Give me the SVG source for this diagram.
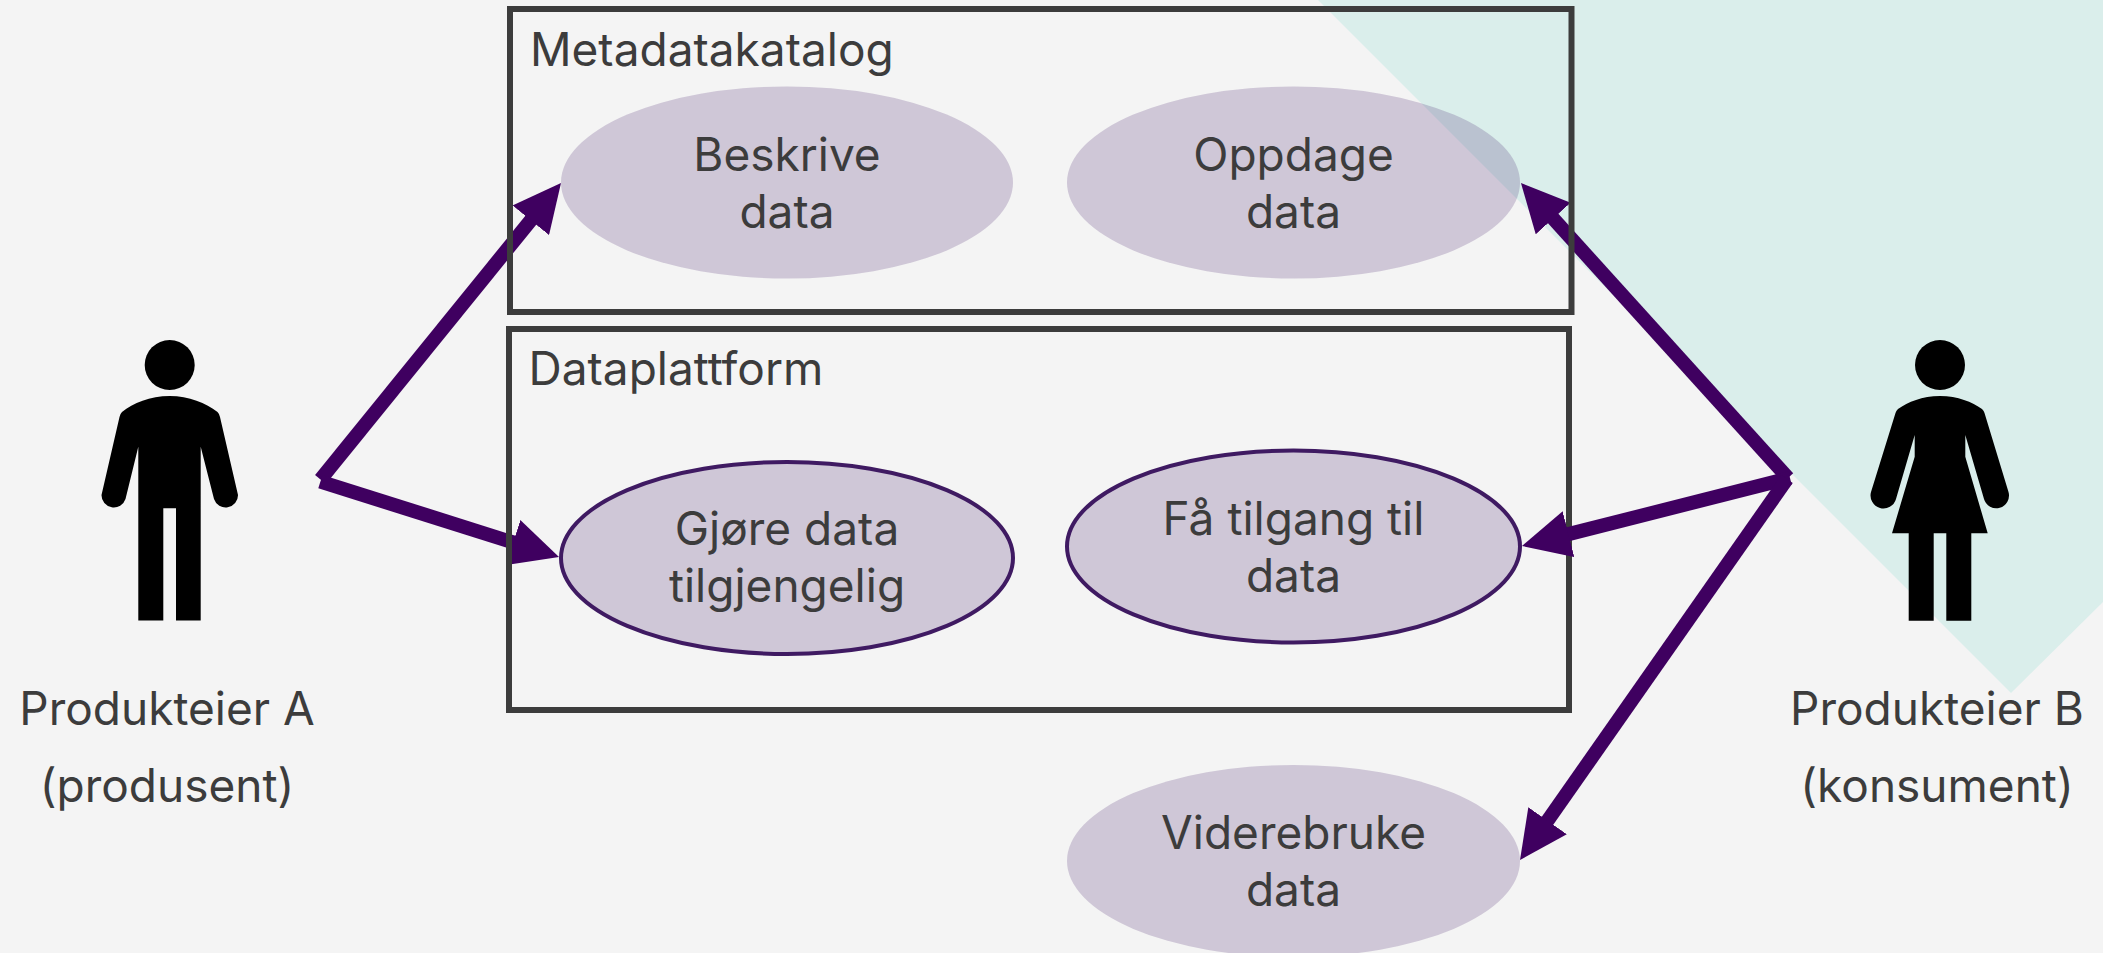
<svg xmlns="http://www.w3.org/2000/svg" width="2103" height="953" viewBox="0 0 2103 953">
<style>
text{font-family:"Inter","Noto Sans","Liberation Sans",sans-serif;font-size:46px;fill:#3c3c3c}
.c{text-anchor:middle}
.uc{fill:#3b1363;fill-opacity:.2}
.s{stroke:#3f1a62;stroke-width:4}
.box{fill:none;stroke:#3c3c3c;stroke-width:6}
.a{fill:none;stroke:#3f0060;stroke-width:14;marker-end:url(#head)}
</style>
<defs>
<marker id="head" markerUnits="userSpaceOnUse" markerWidth="48" markerHeight="47" viewBox="0 0 48 47" refX="1" refY="23.5" orient="auto"><path d="M0 0L48 23.5L0 47Z" fill="#3f0060"/></marker>
</defs>
<rect width="2103" height="953" fill="#f4f4f4"/>
<polygon points="1318,0 2103,0 2103,602 2011,693" fill="#daeeeb"/>
<g id="connectors-back">
<line class="a" x1="320.5" y1="479.5" x2="531.4" y2="219.5"/>
<line class="a" x1="320.4" y1="481.6" x2="514.2" y2="542.8"/>
<line class="a" x1="1788" y1="478" x2="1552.5" y2="217.8"/>
</g>
<g id="metadatakatalog"><rect class="box" x="510" y="9" width="1061.5" height="303"/><text x="530" y="66">Metadatakatalog</text></g>
<g id="dataplattform"><rect class="box" x="509" y="329" width="1060" height="381"/><text x="528.5" y="385">Dataplattform</text></g>
<g id="connectors-front">
<line class="a" x1="1790" y1="478" x2="1567.5" y2="534.4"/>
<line class="a" x1="1787" y1="479" x2="1547" y2="821.5"/>
</g>
<g id="beskrive"><ellipse class="uc" cx="787" cy="182.5" rx="226" ry="96"/><text class="c" x="787" y="171">Beskrive</text><text class="c" x="787" y="228">data</text></g>
<g id="oppdage"><ellipse class="uc" cx="1293.5" cy="182.5" rx="226.5" ry="96"/><text class="c" x="1293.5" y="171">Oppdage</text><text class="c" x="1293.5" y="228">data</text></g>
<g id="gjore"><ellipse class="uc s" cx="787" cy="558" rx="226" ry="96"/><text class="c" x="787" y="545">Gjøre data</text><text class="c" x="787" y="602">tilgjengelig</text></g>
<g id="fa-tilgang"><ellipse class="uc s" cx="1293.5" cy="546.5" rx="226.5" ry="96"/><text class="c" x="1293.5" y="535">Få tilgang til</text><text class="c" x="1293.5" y="592">data</text></g>
<g id="viderebruke"><ellipse class="uc" cx="1293.5" cy="861" rx="226.5" ry="96"/><text class="c" x="1293.5" y="849">Viderebruke</text><text class="c" x="1293.5" y="906">data</text></g>
<g id="produkteier-a">
<circle cx="169.7" cy="365" r="25"/>
<path d="M169.7 396C150 396 133 403 122 412Q120 414 119.5 417L101.5 495A12.3 12.3 0 0 0 125.5 499L138.3 446.7V620.5H163.3V508.3H176V620.5H200.7V446.7L214 499A12.3 12.3 0 0 0 238 495L220 417Q219.5 414 217.5 412C206 403 189 396 169.7 396Z"/>
<text class="c" x="167" y="725">Produkteier A</text><text class="c" x="167" y="802">(produsent)</text>
</g>
<g id="produkteier-b">
<circle cx="1940" cy="365" r="25"/>
<path d="M1940 396C1922 396 1908 402 1898 409Q1896 411 1895.5 413L1871 492A12.5 12.5 0 0 0 1896 499L1914.7 435V456.7L1892 533.3H1908.7V620.7H1933.7V533.3H1946.3V620.7H1971.3V533.3H1987.7L1965.3 456.7V435L1984 499A12.5 12.5 0 0 0 2008.5 492L1984.5 413Q1984 411 1982 409C1972 402 1958 396 1940 396Z"/>
<text class="c" x="1937" y="725">Produkteier B</text><text class="c" x="1937" y="802">(konsument)</text>
</g>
</svg>
